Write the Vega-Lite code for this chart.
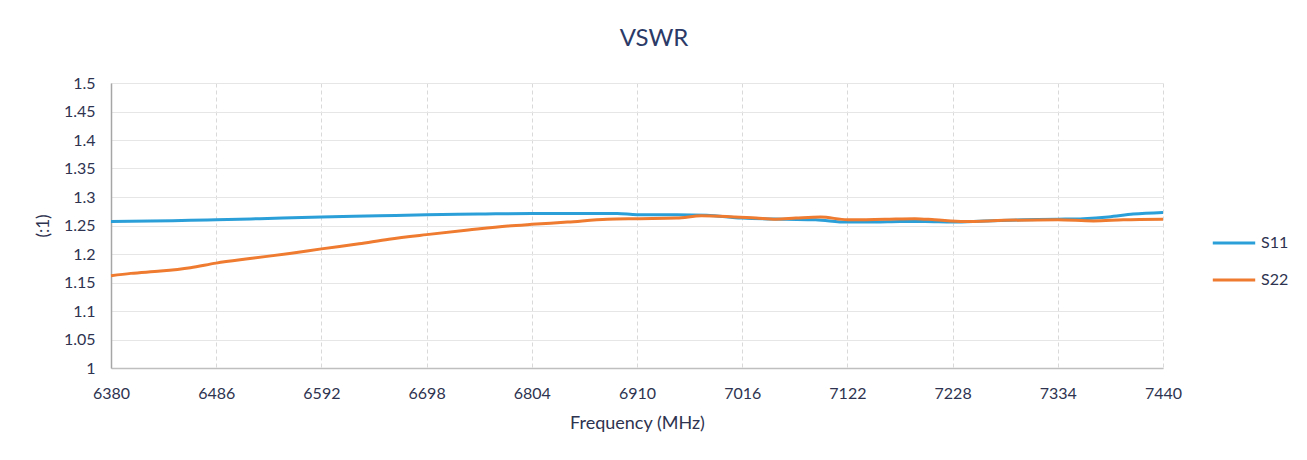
{
  "$schema": "https://vega.github.io/schema/vega-lite/v6.json",
  "autosize": {"type": "none"},
  "padding": {"left": 111, "top": 83, "right": 144, "bottom": 92},
  "width": 1052,
  "height": 285,
  "background": "white",
  "title": {"text": "VSWR", "fontSize": 24, "font": "Lato", "fontWeight": "normal", "color": "#2B3A67", "offset": 24, "anchor": "middle", "dx": 17},
  "config": {
    "font": "Lato",
    "view": {"stroke": null},
    "axis": {"labelColor": "#2E3350", "titleColor": "#2E3350", "labelFont": "Lato", "titleFont": "Lato"}
  },
  "data": {
    "values": [
      {"freq": 6380, "vswr": 1.257, "port": "S11"},
      {"freq": 6420, "vswr": 1.258, "port": "S11"},
      {"freq": 6460, "vswr": 1.259, "port": "S11"},
      {"freq": 6486, "vswr": 1.26, "port": "S11"},
      {"freq": 6530, "vswr": 1.262, "port": "S11"},
      {"freq": 6592, "vswr": 1.265, "port": "S11"},
      {"freq": 6650, "vswr": 1.267, "port": "S11"},
      {"freq": 6698, "vswr": 1.269, "port": "S11"},
      {"freq": 6750, "vswr": 1.27, "port": "S11"},
      {"freq": 6804, "vswr": 1.271, "port": "S11"},
      {"freq": 6860, "vswr": 1.271, "port": "S11"},
      {"freq": 6890, "vswr": 1.271, "port": "S11"},
      {"freq": 6910, "vswr": 1.269, "port": "S11"},
      {"freq": 6950, "vswr": 1.269, "port": "S11"},
      {"freq": 6980, "vswr": 1.268, "port": "S11"},
      {"freq": 7016, "vswr": 1.263, "port": "S11"},
      {"freq": 7060, "vswr": 1.261, "port": "S11"},
      {"freq": 7090, "vswr": 1.26, "port": "S11"},
      {"freq": 7122, "vswr": 1.256, "port": "S11"},
      {"freq": 7150, "vswr": 1.256, "port": "S11"},
      {"freq": 7175, "vswr": 1.257, "port": "S11"},
      {"freq": 7200, "vswr": 1.257, "port": "S11"},
      {"freq": 7228, "vswr": 1.256, "port": "S11"},
      {"freq": 7260, "vswr": 1.258, "port": "S11"},
      {"freq": 7300, "vswr": 1.26, "port": "S11"},
      {"freq": 7334, "vswr": 1.261, "port": "S11"},
      {"freq": 7360, "vswr": 1.262, "port": "S11"},
      {"freq": 7385, "vswr": 1.265, "port": "S11"},
      {"freq": 7410, "vswr": 1.27, "port": "S11"},
      {"freq": 7440, "vswr": 1.273, "port": "S11"},
      {"freq": 6380, "vswr": 1.162, "port": "S22"},
      {"freq": 6400, "vswr": 1.166, "port": "S22"},
      {"freq": 6430, "vswr": 1.17, "port": "S22"},
      {"freq": 6460, "vswr": 1.176, "port": "S22"},
      {"freq": 6486, "vswr": 1.184, "port": "S22"},
      {"freq": 6520, "vswr": 1.192, "port": "S22"},
      {"freq": 6560, "vswr": 1.201, "port": "S22"},
      {"freq": 6592, "vswr": 1.209, "port": "S22"},
      {"freq": 6630, "vswr": 1.218, "port": "S22"},
      {"freq": 6660, "vswr": 1.226, "port": "S22"},
      {"freq": 6698, "vswr": 1.234, "port": "S22"},
      {"freq": 6740, "vswr": 1.242, "port": "S22"},
      {"freq": 6780, "vswr": 1.249, "port": "S22"},
      {"freq": 6804, "vswr": 1.252, "port": "S22"},
      {"freq": 6840, "vswr": 1.256, "port": "S22"},
      {"freq": 6880, "vswr": 1.261, "port": "S22"},
      {"freq": 6910, "vswr": 1.262, "port": "S22"},
      {"freq": 6950, "vswr": 1.263, "port": "S22"},
      {"freq": 6975, "vswr": 1.267, "port": "S22"},
      {"freq": 7000, "vswr": 1.266, "port": "S22"},
      {"freq": 7030, "vswr": 1.263, "port": "S22"},
      {"freq": 7050, "vswr": 1.261, "port": "S22"},
      {"freq": 7070, "vswr": 1.263, "port": "S22"},
      {"freq": 7095, "vswr": 1.265, "port": "S22"},
      {"freq": 7122, "vswr": 1.26, "port": "S22"},
      {"freq": 7160, "vswr": 1.261, "port": "S22"},
      {"freq": 7190, "vswr": 1.262, "port": "S22"},
      {"freq": 7210, "vswr": 1.26, "port": "S22"},
      {"freq": 7240, "vswr": 1.257, "port": "S22"},
      {"freq": 7280, "vswr": 1.259, "port": "S22"},
      {"freq": 7334, "vswr": 1.26, "port": "S22"},
      {"freq": 7370, "vswr": 1.258, "port": "S22"},
      {"freq": 7400, "vswr": 1.26, "port": "S22"},
      {"freq": 7440, "vswr": 1.261, "port": "S22"}
    ]
  },
  "mark": {"type": "line", "strokeWidth": 3, "interpolate": "monotone"},
  "encoding": {
    "x": {
      "field": "freq", "type": "quantitative",
      "scale": {"domain": [6380, 7440], "nice": false, "zero": false},
      "axis": {
        "values": [6380, 6486, 6592, 6698, 6804, 6910, 7016, 7122, 7228, 7334, 7440],
        "format": "d",
        "title": "Frequency (MHz)", "titleFontSize": 18, "titleFontWeight": "normal", "titlePadding": 13,
        "labelFontSize": 16, "labelPadding": 17, "ticks": false,
        "domainColor": "#BFBFBF", "domainWidth": 1.5,
        "grid": true, "gridColor": "#D9D9D9", "gridDash": [4, 3], "labelFlush": false
      }
    },
    "y": {
      "field": "vswr", "type": "quantitative",
      "scale": {"domain": [1, 1.5], "nice": false, "zero": false},
      "axis": {
        "values": [1, 1.05, 1.1, 1.15, 1.2, 1.25, 1.3, 1.35, 1.4, 1.45, 1.5],
        "labelExpr": "'' + datum.value",
        "title": "(:1)", "titleFontSize": 17, "titleFontWeight": "normal", "titlePadding": 11,
        "labelFontSize": 16, "labelPadding": 16, "ticks": false,
        "domainColor": "#A6A6A6", "domainWidth": 1.5,
        "grid": true, "gridColor": "#E6E6E6"
      }
    },
    "color": {
      "field": "port", "type": "nominal",
      "scale": {"domain": ["S11", "S22"], "range": ["#2A9FD8", "#EE7B30"]},
      "legend": {
        "title": null, "orient": "none", "legendX": 1100, "legendY": 137,
        "symbolType": "stroke", "symbolSize": 1800, "symbolStrokeWidth": 3,
        "labelFontSize": 16, "labelColor": "#2E3350", "rowPadding": 6, "labelOffset": 4
      }
    }
  }
}
